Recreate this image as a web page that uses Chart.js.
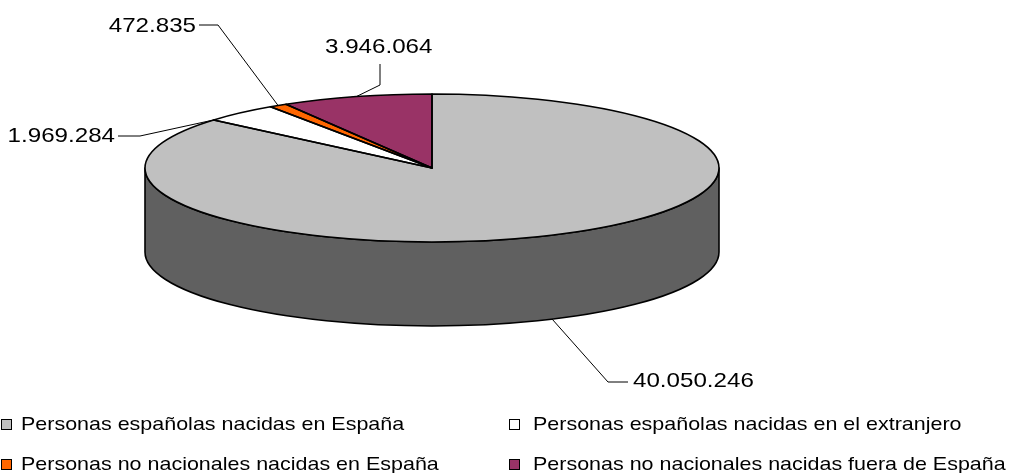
<!DOCTYPE html>
<html><head><meta charset="utf-8">
<script src="https://cdn.jsdelivr.net/npm/chart.js@4/dist/chart.umd.min.js"></script>
<style>
html,body{margin:0;padding:0;background:#fff;overflow:hidden;width:1012px;height:473px;}
#wrap{position:relative;width:1012px;height:473px;}
canvas{position:absolute;left:0;top:0;}
.lg{position:absolute;font-family:'Liberation Sans',Arial,sans-serif;font-size:19px;line-height:22px;height:22px;color:#000;white-space:nowrap;transform:scaleX(1.13);transform-origin:0 50%;}
.sq{position:absolute;width:9px;height:9px;border:1px solid #000;}
</style></head><body>
<div id="wrap"><canvas id="c" width="1012" height="473"></canvas><div id="legend"></div></div>
<script>
// ---- data ----
const categories = [
  'Personas españolas nacidas en España',
  'Personas españolas nacidas en el extranjero',
  'Personas no nacionales nacidas en España',
  'Personas no nacionales nacidas fuera de España'
];
const values = [40050246, 1969284, 472835, 3946064];

// ---- styles ----
const colors = ['#C0C0C0', '#FFFFFF', '#FF6600', '#993366'];
const sideColors = ['#606060', '#9A9A9A', '#993D00', '#5C1F3D'];

function fmt(v){ return String(v).replace(/\B(?=(\d{3})+(?!\d))/g, '.'); }

const pie3d = {
  id: 'pie3d',
  beforeDatasetsDraw(chart, args, o){
    const ctx = chart.ctx;
    const arcs = chart.getDatasetMeta(0).data;
    ctx.save();
    arcs.forEach((a, i) => {
      const s = a.startAngle, e = a.endAngle, r = a.outerRadius;
      for (let k = -1; k <= 1; k++){
        const lo = Math.max(s, k*2*Math.PI), hi = Math.min(e, k*2*Math.PI + Math.PI);
        if (hi > lo){
          ctx.beginPath();
          ctx.ellipse(a.x, o.cy, r, o.ry, 0, lo, hi);
          ctx.ellipse(a.x, o.cy + o.depth, r, o.ry, 0, hi, lo, true);
          ctx.closePath();
          ctx.fillStyle = sideColors[i];
          ctx.fill();
          ctx.lineWidth = o.lw; ctx.strokeStyle = '#000'; ctx.lineJoin = 'round';
          ctx.stroke();
        }
      }
    });
    ctx.restore();
    const a0 = arcs[0];
    ctx.save();
    ctx.translate(0, o.cy);
    ctx.scale(1, o.ry / a0.outerRadius);
    ctx.translate(0, -a0.y);
  },
  afterDatasetsDraw(chart, args, o){
    const ctx = chart.ctx;
    ctx.restore();
    const arcs = chart.getDatasetMeta(0).data;
    ctx.save();
    ctx.lineWidth = o.lw; ctx.strokeStyle = '#000'; ctx.lineJoin = 'round';
    arcs.forEach((a) => {
      ctx.beginPath();
      ctx.moveTo(a.x, o.cy);
      ctx.ellipse(a.x, o.cy, a.outerRadius, o.ry, 0, a.startAngle, a.endAngle);
      ctx.closePath();
      ctx.stroke();
    });
    // data labels with leader lines
    o.labels.forEach((L, i) => {
      const a = arcs[i];
      const ang = a.startAngle + L.t * (a.endAngle - a.startAngle);
      const ax = a.x + a.outerRadius * Math.cos(ang);
      const ay = o.cy + (L.bottom ? o.depth : 0) + o.ry * Math.sin(ang);
      ctx.beginPath();
      ctx.lineWidth = 1;
      ctx.moveTo(ax, ay);
      L.pts.forEach(p => ctx.lineTo(p[0], p[1]));
      ctx.stroke();
      ctx.save();
      ctx.translate(L.x, L.y);
      ctx.scale(o.sx, 1);
      ctx.font = o.font;
      ctx.fillStyle = '#000';
      ctx.textAlign = L.align;
      ctx.textBaseline = 'alphabetic';
      ctx.fillText(fmt(values[i]), 0, 0);
      ctx.restore();
    });
    ctx.restore();
  }
};

new Chart(document.getElementById('c').getContext('2d'), {
  type: 'pie',
  data: {
    labels: categories,
    datasets: [{ data: values, backgroundColor: colors, borderWidth: 0, radius: 287, clip: false }]
  },
  options: {
    responsive: false,
    animation: false,
    events: [],
    layout: { padding: { left: 0, right: 148, top: 0, bottom: 0 } },
    plugins: {
      legend: { display: false },
      tooltip: { enabled: false },
      pie3d: {
        cy: 168, ry: 74, depth: 84, lw: 1.6,
        font: '21px "Liberation Sans", Arial, sans-serif', sx: 1.15,
        labels: [
          { t: 0.5, bottom: true, pts: [[608, 382], [628, 382]], x: 633, y: 387, align: 'left' },
          { t: 0.0, pts: [[140, 136], [118, 136]], x: 115, y: 142, align: 'right' },
          { t: 0.5, pts: [[218, 25], [199, 25]], x: 196, y: 32, align: 'right' },
          { t: 0.5, pts: [[380, 85], [380, 64]], x: 325, y: 53, align: 'left' }
        ]
      }
    }
  },
  plugins: [pie3d]
});

// legend (2 columns)
const lgPos = [[1, 21, 419, 413], [509, 533, 419, 413], [1, 21, 459, 453], [509, 533, 459, 453]];
const lgOrder = [0, 1, 2, 3];
const legend = document.getElementById('legend');
lgOrder.forEach((ci, k) => {
  const p = lgPos[k];
  const sq = document.createElement('div');
  sq.className = 'sq';
  sq.style.left = p[0] + 'px'; sq.style.top = p[2] + 'px';
  sq.style.background = colors[ci];
  legend.appendChild(sq);
  const t = document.createElement('div');
  t.className = 'lg';
  t.style.left = p[1] + 'px'; t.style.top = p[3] + 'px';
  t.textContent = categories[ci];
  legend.appendChild(t);
});
</script>
</body></html>
